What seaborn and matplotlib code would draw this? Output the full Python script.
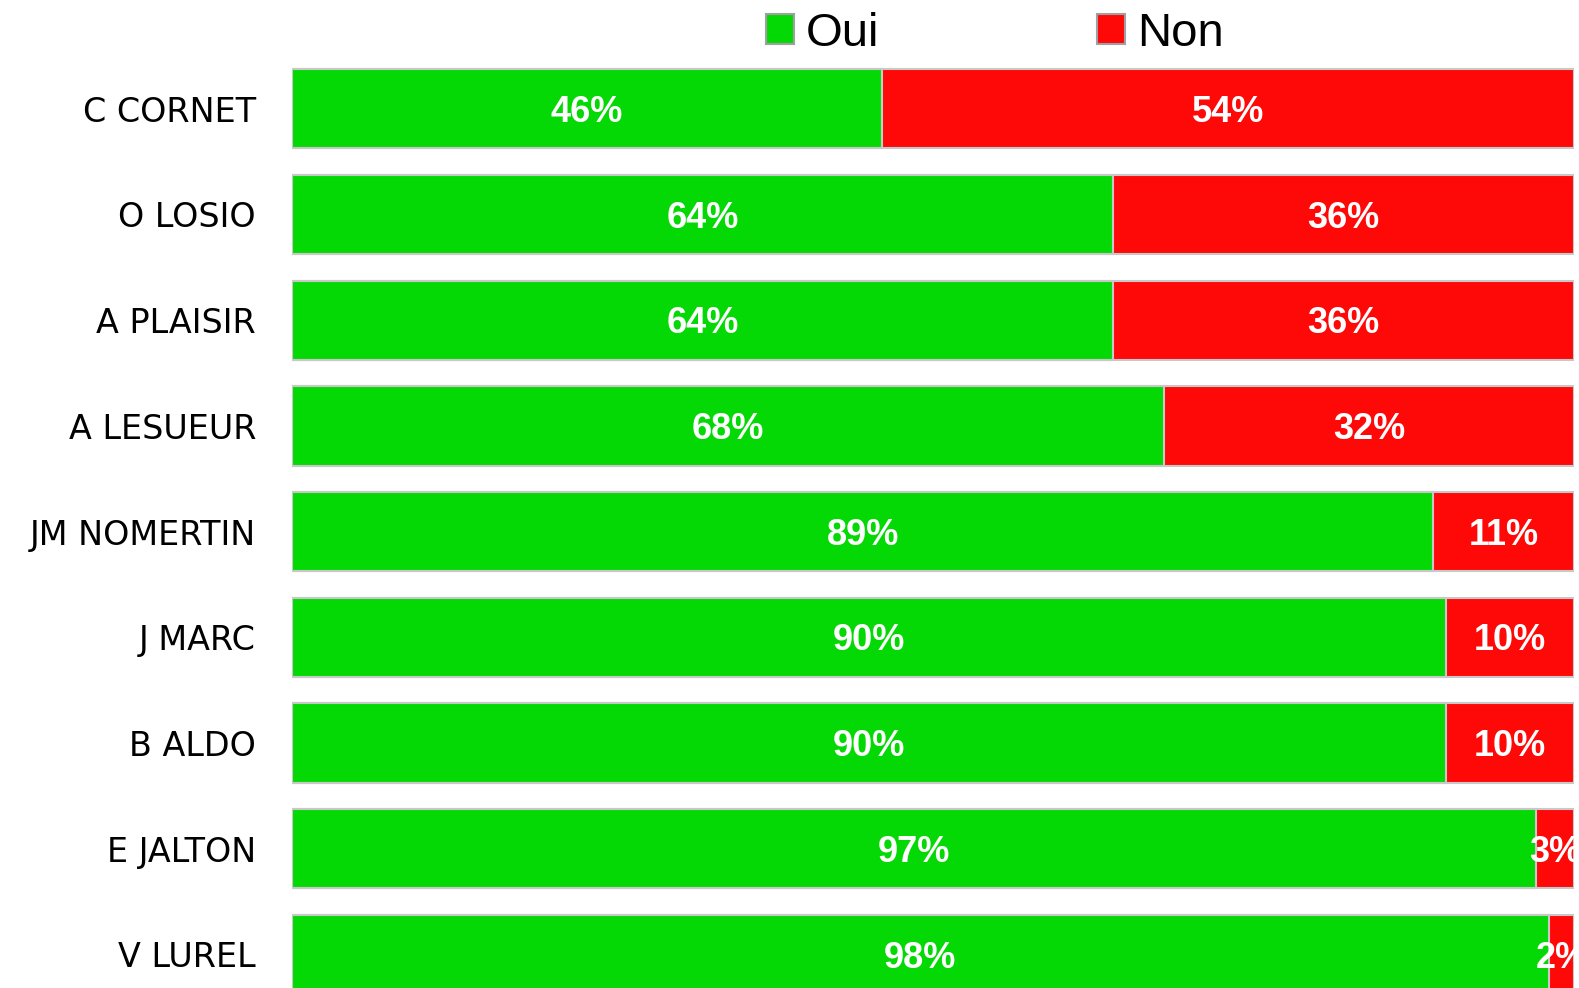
import matplotlib
matplotlib.use("Agg")
import matplotlib.pyplot as plt
from matplotlib.patches import Patch
import seaborn as sns
import pandas as pd

# data
names = ["C CORNET", "O LOSIO", "A PLAISIR", "A LESUEUR", "JM NOMERTIN",
         "J MARC", "B ALDO", "E JALTON", "V LUREL"]
oui = [46, 64, 64, 68, 89, 90, 90, 97, 98]
non = [54, 36, 36, 32, 11, 10, 10, 3, 2]

green = "#05d905"
red = "#ff0808"

df = pd.DataFrame({"name": names, "oui": oui, "non": non})
df["total"] = df["oui"] + df["non"]

sns.set_style("white")

fig = plt.figure(figsize=(15.79, 9.88), dpi=100)
ax = fig.add_axes([0.185, 0.0, 0.812, 1.0])

# red as the full stack, green on top
sns.barplot(data=df, x="total", y="name", orient="h", color=red, width=0.75,
            edgecolor="#c8c8c8", linewidth=1.5, saturation=1, ax=ax)
sns.barplot(data=df, x="oui", y="name", orient="h", color=green, width=0.75,
            edgecolor="#c8c8c8", linewidth=1.5, saturation=1, ax=ax)

# value labels
for i, (o, n) in enumerate(zip(oui, non)):
    ax.text(o / 2, i + 0.035, f"{o}%", ha="center", va="center", color="white",
            fontsize=26, fontweight="bold", family="Liberation Sans")
    ax.text(o + n / 2, i + 0.035, f"{n}%", ha="center", va="center", color="white",
            fontsize=26, fontweight="bold", family="Liberation Sans", clip_on=False)

ax.set_xlim(0, 100)
ax.set_ylim(8.318, -1.029)
ax.set_xlabel("")
ax.set_ylabel("")
ax.set_xticks([])
ax.tick_params(axis="y", length=0, pad=26)
for lab in ax.get_yticklabels():
    lab.set_fontsize(24)
    lab.set_family("DejaVu Sans")
    lab.set_color("black")
sns.despine(ax=ax, left=True, bottom=True, top=True, right=True)

# legend
handles = [Patch(facecolor=green, edgecolor="#a0a0a0", linewidth=1.5, label="Oui"),
           Patch(facecolor=red, edgecolor="#a0a0a0", linewidth=1.5, label="Non")]
leg = fig.legend(handles=handles, loc="center", bbox_to_anchor=(0.63, 0.966), ncol=2,
                 frameon=False, prop={"family": "Liberation Sans", "size": 34},
                 handlelength=0.6, handleheight=0.6, handletextpad=0.25,
                 columnspacing=4.6)
for t in leg.get_texts():
    t.set_color("black")

fig.savefig("out.png", dpi=100)
